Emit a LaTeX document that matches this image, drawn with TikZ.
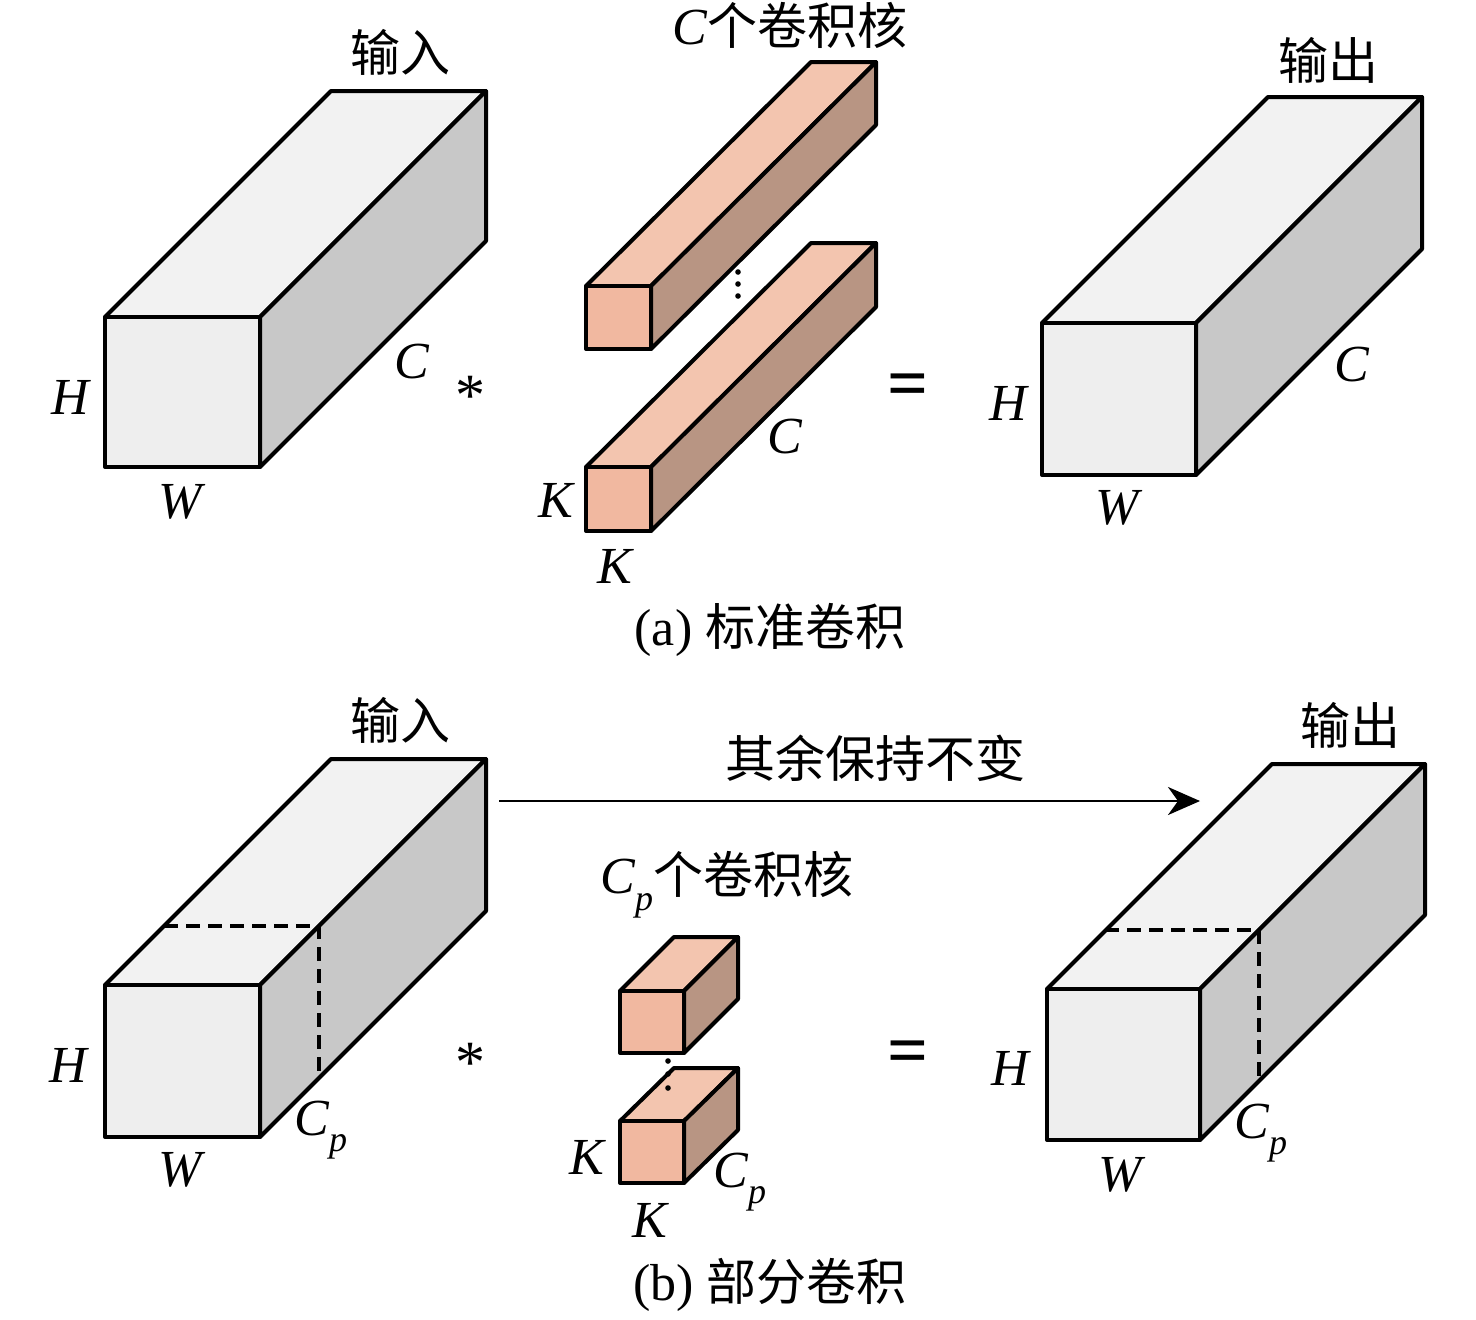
\documentclass[tikz,border=0pt]{standalone}
\usepackage{fontspec}
\setmainfont{Liberation Serif}
\newfontfamily\cjk{Noto Sans CJK SC}
\usetikzlibrary{arrows.meta}
\definecolor{boxtop}{HTML}{F2F2F2}
\definecolor{boxfront}{HTML}{EEEEEE}
\definecolor{boxside}{HTML}{C8C8C8}
\definecolor{kertop}{HTML}{F3C5AF}
\definecolor{kerfront}{HTML}{F1B8A0}
\definecolor{kerside}{HTML}{B89583}
% #1 x, #2 y (front top-left), #3 w, #4 h, #5 dx, #6 dy, #7 front, #8 top, #9 side
\newcommand\mycuboid[9]{%
  \filldraw[fill=#8] (#1,#2) -- ++(#5,-#6) -- ++(#3,0) -- ++(-#5,#6) -- cycle;
  \filldraw[fill=#9] (#1+#3,#2) -- ++(#5,-#6) -- ++(0,#4) -- ++(-#5,#6) -- cycle;
  \filldraw[fill=#7] (#1,#2) rectangle ++(#3,#4);
}
\tikzset{
  lab/.style={inner sep=0pt, font=\fontsize{26}{30}\selectfont\itshape},
  zh/.style={inner sep=0pt, font=\fontsize{25}{30}\selectfont\cjk},
  captxt/.style={inner sep=0pt, font=\fontsize{26}{30}\selectfont},
  eqs/.style={inner sep=0pt, anchor=base, font=\fontsize{36}{40}\selectfont\bfseries},
  star/.style={inner sep=0pt, anchor=base, font=\fontsize{30}{34}\selectfont},
  dashline/.style={line width=2pt, dash pattern=on 7pt off 4pt},
  dotmark/.style={fill=black, draw=none},
}
\newcommand\Cp{\textit{C}\kern-0.02em\raisebox{-0.32em}{\fontsize{18}{20}\selectfont\itshape p}}
\begin{document}
\begin{tikzpicture}[x=0.5pt,y=-0.5pt,line width=2pt,line join=round]
\useasboundingbox (0,0) rectangle (1476,1319);
% ===== (a) standard convolution =====
\mycuboid{105}{317}{155}{150}{226}{226}{boxfront}{boxtop}{boxside}
\node[zh] (inA) at (400,52) {输入};
\node[lab] (hA) at (70,397) {H};
\node[lab] (wA) at (180,502) {W};
\node[lab] (cA) at (412,362) {C};
\node[star] (starA) at (470,415) {*};
% kernels
\mycuboid{586}{286}{65}{63}{225}{224}{kerfront}{kertop}{kerside}
\mycuboid{586}{467}{65}{64}{225}{224}{kerfront}{kertop}{kerside}
\fill[dotmark] (738,272) circle (2.8);
\fill[dotmark] (738,284) circle (2.8);
\fill[dotmark] (738,296) circle (2.8);
\node[inner sep=0pt] (kerA) at (790,25) {\fontsize{26}{30}\selectfont\textit{C}{\fontsize{25}{30}\selectfont\cjk 个卷积核}};
\node[lab] (ckA) at (785,437) {C};
\node[lab] (k1A) at (556,500) {K};
\node[lab] (k2A) at (615,566) {K};
\node[eqs] (eqA) at (908,407) {=};
% output
\mycuboid{1042}{323}{154}{152}{226}{226}{boxfront}{boxtop}{boxside}
\node[zh] (outA) at (1328,60) {输出};
\node[lab] (hA2) at (1008,403) {H};
\node[lab] (wA2) at (1117,508) {W};
\node[lab] (cA2) at (1352,365) {C};
\node[captxt] (capA) at (770,630) {(a) {\fontsize{25}{30}\selectfont\cjk 标准卷积}};
% ===== (b) partial convolution =====
\mycuboid{105}{985}{155}{152}{226}{226}{boxfront}{boxtop}{boxside}
\draw[dashline] (164,926) -- (319,926) -- (319,1076);
\node[zh] (inB) at (400,720) {输入};
\node[lab] (hB) at (68,1065) {H};
\node[lab] (wB) at (180,1170) {W};
\node[inner sep=0pt, font=\fontsize{26}{30}\selectfont] (cpB) at (321,1130) {\Cp};
\node[star] (starB) at (470,1082) {*};
% arrow
\coordinate (arS) at (499,801);
\coordinate (arE) at (1200,801);
\draw[line width=1.4pt, -{Stealth[length=16pt,width=14pt,inset=5pt]}] (arS) -- (arE);
\node[zh] (keep) at (875,758) {其余保持不变};
% kernels
\mycuboid{620}{991}{64}{62}{54}{54}{kerfront}{kertop}{kerside}
\mycuboid{620}{1121}{64}{62}{54}{53}{kerfront}{kertop}{kerside}
\fill[dotmark] (668,1061) circle (2.8);
\fill[dotmark] (668,1074) circle (2.8);
\fill[dotmark] (668,1088) circle (2.8);
\node[inner sep=0pt] (kerB) at (727,885) {\fontsize{26}{30}\selectfont\Cp{\fontsize{25}{30}\selectfont\cjk 个卷积核}};
\node[lab] (k1B) at (587,1157) {K};
\node[lab] (k2B) at (650,1220) {K};
\node[inner sep=0pt, font=\fontsize{26}{30}\selectfont] (cpK) at (740,1182) {\Cp};
\node[eqs] (eqB) at (908,1074) {=};
% output
\mycuboid{1047}{989}{153}{151}{225}{225}{boxfront}{boxtop}{boxside}
\draw[dashline] (1105,930) -- (1259,930) -- (1259,1078);
\node[zh] (outB) at (1350,725) {输出};
\node[lab] (hB2) at (1010,1068) {H};
\node[lab] (wB2) at (1120,1175) {W};
\node[inner sep=0pt, font=\fontsize{26}{30}\selectfont] (cpB2) at (1261,1133) {\Cp};
\node[captxt] (capB) at (770,1285) {(b) {\fontsize{25}{30}\selectfont\cjk 部分卷积}};
\end{tikzpicture}
\end{document}
